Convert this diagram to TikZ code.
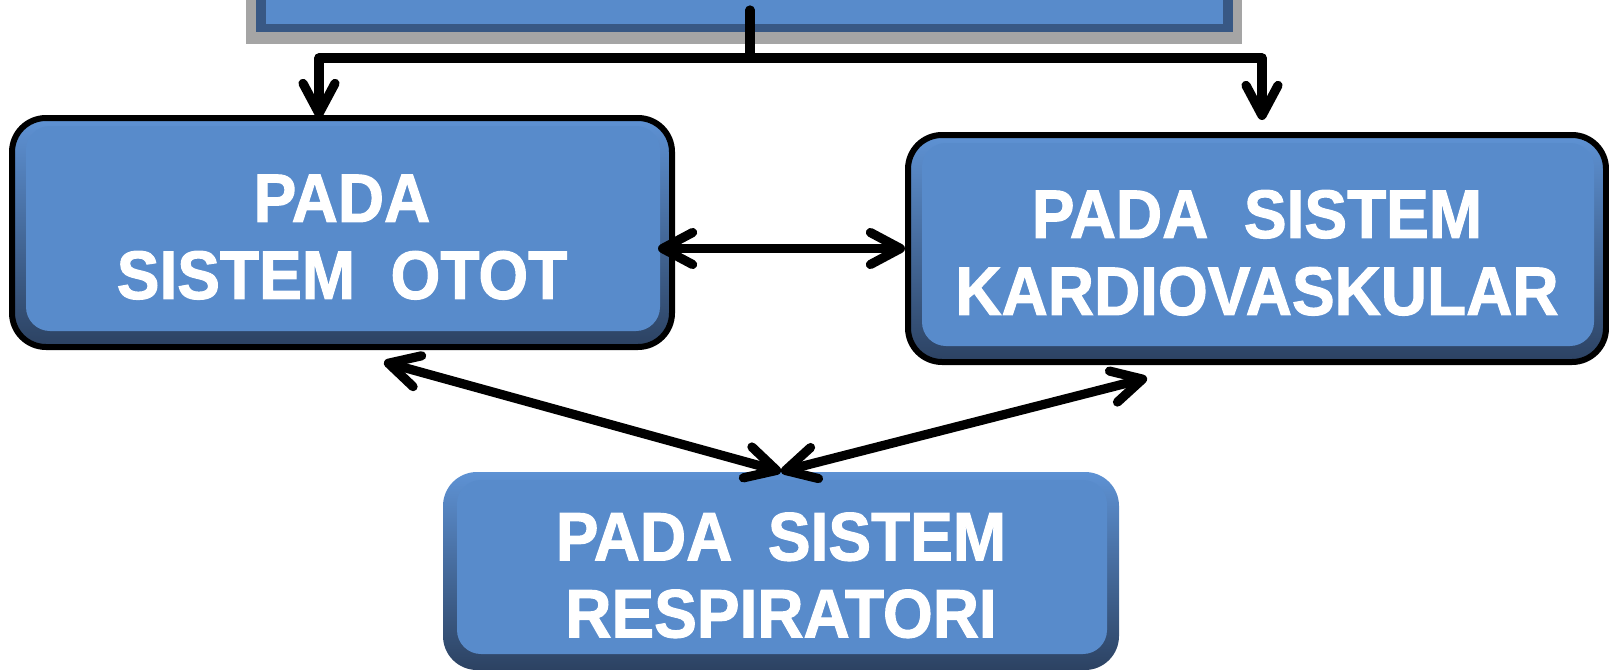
\documentclass[tikz,border=0pt]{standalone}
\usepackage{fontspec}
\usepackage{graphicx}
\setmainfont{Liberation Sans}[BoldFont={Liberation Sans Bold}, BoldFeatures={FakeBold=1.6}]
\usetikzlibrary{arrows.meta,calc}

\definecolor{face}{RGB}{88,139,203}
\definecolor{bevtop}{RGB}{94,146,212}
\definecolor{bevbot}{RGB}{44,66,98}
\definecolor{bevel}{RGB}{56,88,132}
\definecolor{shadowgray}{RGB}{165,165,165}

% one label line, set slightly taller than wide
\newcommand{\tallline}[1]{\scalebox{1}[1.07]{#1}}
% strut that lowers the two-line label a little inside its box
\newcommand{\labelstrut}{\rule{0pt}{28.2pt}}

\tikzset{
  px/.style={x=0.5pt,y=-0.5pt},
  label text/.style={text=white, align=center, inner sep=0pt,
    font=\bfseries\fontsize{32}{38.5}\selectfont},
  roundbox/.style={label text, rounded corners=17pt,
    top color=bevtop, bottom color=bevbot,
    path picture={\fill[face, rounded corners=12pt]
      ($(path picture bounding box.north west)+(7pt,-4pt)$) rectangle
      ($(path picture bounding box.south east)+(-6pt,8pt)$);}},
  outlined/.style={draw=black, line width=3pt},
  topbox/.style={fill=bevel, inner sep=0pt,
    path picture={\fill[face]
      ($(path picture bounding box.north west)+(5pt,0pt)$) rectangle
      ($(path picture bounding box.south east)+(-5pt,4pt)$);}},
  conn/.style={line width=4.6pt, line cap=round, line join=round},
  tip/.style={-{Straight Barb[length=15pt,width=16pt,round]}},
  both/.style={{Straight Barb[length=15pt,width=16pt,round]}-{Straight Barb[length=15pt,width=16pt,round]}},
}

\begin{document}
\begin{tikzpicture}[px]
  \useasboundingbox (0,0) rectangle (1609,669);
  \clip (0,0) rectangle (1609,669);

  % header box running off the top edge, with its drop shadow
  \fill[shadowgray] (246,-60) rectangle (1242,44);
  \node[topbox, minimum width=488.5pt, minimum height=46pt] (top) at (744.5,-14) {};

  % the three system boxes
  \node[roundbox, outlined, minimum width=330pt, minimum height=114.5pt]
    (otot) at (342,232.5)
    {\labelstrut\tallline{PADA}\\\tallline{SISTEM~~OTOT}};
  \node[roundbox, outlined, minimum width=349pt, minimum height=113.5pt]
    (kardio) at (1257,248.5)
    {\labelstrut\tallline{PADA~~SISTEM}\\\tallline{KARDIOVASKULAR}};
  \node[roundbox, minimum width=338pt, minimum height=99pt]
    (resp) at (781,571)
    {\labelstrut\tallline{PADA~~SISTEM}\\\tallline{RESPIRATORI}};

  % branch points and free arrow ends
  \coordinate (stem) at (750,10);
  \coordinate (split) at (750,58);
  \coordinate (ltip) at (319,118);
  \coordinate (rtip) at (1262,120);
  \coordinate (lfoot) at (384,362);
  \coordinate (rfoot) at (1147,378);

  % header splits into two downward arrows
  \draw[conn] (stem) -- (split);
  \draw[conn,tip] (split) -| (ltip);
  \draw[conn,tip] (split) -| (rtip);

  % mutual links between the systems
  \draw[conn,both] ($(otot.east |- kardio.west)+(-17,0)$) -- (kardio.west);
  \draw[conn,both] (lfoot) -- (resp.north);
  \draw[conn,both] (rfoot) -- (resp.north);
\end{tikzpicture}
\end{document}
